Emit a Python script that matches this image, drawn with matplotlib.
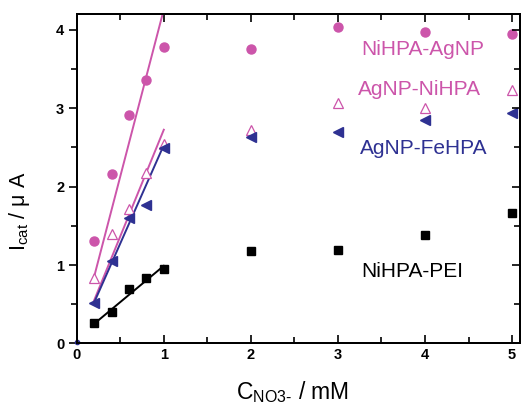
import matplotlib
matplotlib.use("Agg")
import matplotlib.pyplot as plt
import numpy as np

plt.rcParams['font.family'] = ['Liberation Sans', 'DejaVu Sans']
plt.rcParams['mathtext.fontset'] = 'custom'
plt.rcParams['mathtext.rm'] = 'Liberation Sans'
plt.rcParams['mathtext.it'] = 'Liberation Sans'

PINK = '#cc55aa'
BLUE = '#2e3192'
BLACK = '#000000'

conc = [0.2, 0.4, 0.6, 0.8, 1.0, 2.0, 3.0, 4.0, 5.0]
nihpa_agnp = [1.31, 2.16, 2.91, 3.36, 3.78, 3.75, 4.04, 3.97, 3.95]
agnp_nihpa = [0.83, 1.40, 1.72, 2.17, 2.54, 2.72, 3.07, 3.00, 3.23]
agnp_fehpa = [0.52, 1.05, 1.60, 1.77, 2.49, 2.63, 2.70, 2.85, 2.94]
nihpa_pei = [0.255, 0.40, 0.69, 0.83, 0.95, 1.18, 1.19, 1.38, 1.66]

# linear fits over the low-concentration range (slope, intercept)
fit_range = [0.2, 1.0]
fit_nihpa_agnp = (4.26, 0.0)
fit_agnp_nihpa = (2.72, 0.006)
fit_agnp_fehpa = (2.51, 0.02)
fit_nihpa_pei = (0.925, 0.065)

origin_x = [0.0]
origin_y = [0.02]

fig = plt.figure(figsize=(5.22, 4.05), dpi=100)
ax = fig.add_axes([0.147, 0.152, 0.849, 0.813])

xf = np.array(fit_range)
for (m, b), c in [(fit_nihpa_agnp, PINK), (fit_agnp_nihpa, PINK),
                  (fit_agnp_fehpa, BLUE), (fit_nihpa_pei, BLACK)]:
    ax.plot(xf, m * xf + b, color=c, lw=1.4, zorder=2)

ax.plot(conc, nihpa_agnp, 'o', color=PINK, ms=6.5, mec=PINK, zorder=3)
ax.plot(conc, agnp_nihpa, '^', mfc='white', mec=PINK, ms=7, mew=0.9, zorder=3)
ax.plot(conc, agnp_fehpa, '<', color=BLUE, ms=7.5, zorder=4)
ax.plot(conc, nihpa_pei, 's', color=BLACK, ms=5.8, zorder=3)
ax.plot(origin_x, origin_y, 'o', color=BLUE, ms=3, clip_on=False, zorder=5)

ax.text(3.97, 3.75, 'NiHPA-AgNP', color=PINK, fontsize=15, ha='center', va='center')
ax.text(3.94, 3.24, 'AgNP-NiHPA', color=PINK, fontsize=15, ha='center', va='center')
ax.text(3.98, 2.49, 'AgNP-FeHPA', color=BLUE, fontsize=15, ha='center', va='center')
ax.text(3.85, 0.92, 'NiHPA-PEI', color=BLACK, fontsize=15, ha='center', va='center')

ax.set_xlim(0, 5.09)
ax.set_ylim(0, 4.2)
ax.set_xticks([0, 1, 2, 3, 4, 5])
ax.set_xticks(np.arange(0.5, 5.1, 1.0), minor=True)
ax.set_yticks([0, 1, 2, 3, 4])
ax.set_yticks(np.arange(0.5, 4.2, 1.0), minor=True)

for s in ax.spines.values():
    s.set_linewidth(1.4)

ax.tick_params(axis='x', which='both', direction='in', top=True, width=1.2)
ax.tick_params(axis='y', which='both', direction='out', left=True, width=1.2)
ax.tick_params(which='major', length=6)
ax.tick_params(which='minor', length=4)
ax.tick_params(labelsize=10.5, pad=3)
for lab in ax.get_xticklabels() + ax.get_yticklabels():
    lab.set_fontweight('bold')

# right side ticks pointing inward
ax2 = ax.twinx()
ax2.set_ylim(ax.get_ylim())
ax2.set_yticks([0, 1, 2, 3, 4])
ax2.set_yticks(np.arange(0.5, 4.2, 1.0), minor=True)
ax2.tick_params(axis='y', which='both', direction='in', labelright=False, width=1.2)
ax2.tick_params(which='major', length=6)
ax2.tick_params(which='minor', length=4)
for s in ax2.spines.values():
    s.set_linewidth(1.4)

ax.set_xlabel(r'C$_{\mathrm{NO3}\text{-}}$ / mM', fontsize=16.5)
ax.xaxis.set_label_coords(0.486, -0.108)
ax.set_ylabel(r'I$_{\mathrm{cat}}$ / μ A', fontsize=15.5)
ax.yaxis.set_label_coords(-0.10, 0.40)

fig.savefig('out.png', dpi=100)
